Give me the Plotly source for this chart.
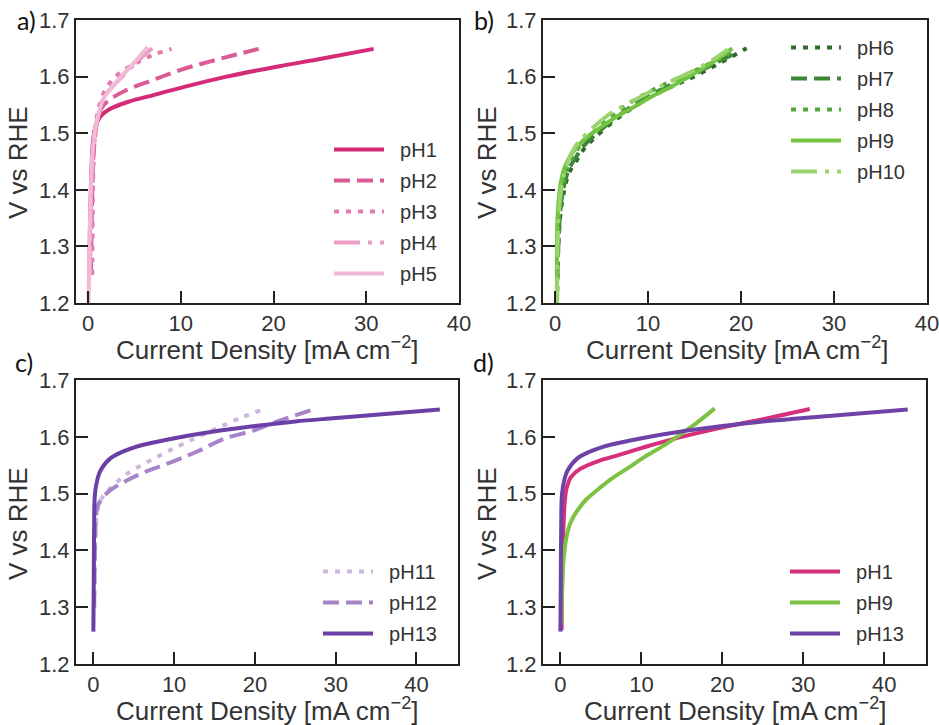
import plotly.graph_objects as go

# ---------------- data ----------------
# panel a (acidic)
ph1_x = [0.15, 0.2, 0.3, 0.4, 0.53, 0.74, 1.0, 1.36, 2.39, 4.44, 6.5, 10.2, 14.7, 20.5, 25.0, 30.8]
ph1_y = [1.26, 1.33, 1.40, 1.45, 1.485, 1.508, 1.52, 1.53, 1.543, 1.556, 1.565, 1.581, 1.599, 1.618, 1.631, 1.649]
ph2_x = [0.3, 0.4, 0.55, 0.8, 1.1, 1.6, 2.4, 4.0, 7.0, 10.0, 13.0, 16.0, 18.4]
ph2_y = [1.25, 1.35, 1.45, 1.50, 1.53, 1.548, 1.56, 1.575, 1.594, 1.612, 1.626, 1.639, 1.649]
ph3_x = [0.45, 0.5, 0.6, 0.8, 1.1, 1.6, 2.4, 3.4, 5.3, 7.0, 9.0]
ph3_y = [1.25, 1.35, 1.45, 1.51, 1.541, 1.568, 1.59, 1.606, 1.625, 1.638, 1.649]
ph4_x = [0.2, 0.3, 0.45, 0.7, 1.0, 1.6, 2.5, 3.5, 5.0, 6.9]
ph4_y = [1.25, 1.35, 1.45, 1.50, 1.525, 1.56, 1.58, 1.597, 1.622, 1.65]
ph5_x = [0.05, 0.15, 0.3, 0.5, 0.8, 1.0, 1.6, 2.5, 3.4, 5.0, 6.4]
ph5_y = [1.20, 1.30, 1.40, 1.47, 1.51, 1.523, 1.559, 1.58, 1.597, 1.625, 1.652]

# panel b (neutral)
ph6_x = [0.2, 0.35, 0.6, 1.0, 1.5, 2.15, 3.0, 4.0, 6.0, 8.0, 10.0, 12.5, 14.7, 17.5, 20.6]
ph6_y = [1.20, 1.30, 1.36, 1.40, 1.43, 1.447, 1.47, 1.488, 1.517, 1.541, 1.562, 1.582, 1.598, 1.622, 1.65]
ph7_x = [0.2, 0.35, 0.6, 1.0, 1.5, 2.15, 3.0, 4.0, 6.0, 8.0, 10.0, 12.5, 14.7, 17.5, 19.6]
ph7_y = [1.20, 1.30, 1.37, 1.41, 1.437, 1.455, 1.476, 1.493, 1.52, 1.545, 1.565, 1.586, 1.602, 1.626, 1.643]
ph8_x = [0.2, 0.3, 0.55, 1.0, 1.5, 2.15, 3.0, 4.0, 6.0, 8.0, 10.0, 12.5, 14.7, 17.5, 19.5]
ph8_y = [1.20, 1.30, 1.38, 1.42, 1.445, 1.465, 1.485, 1.50, 1.528, 1.553, 1.572, 1.592, 1.608, 1.63, 1.648]
ph9_x = [0.2, 0.25, 0.4, 0.7, 1.1, 1.56, 2.39, 3.21, 4.44, 6.5, 8.56, 10.2, 12.7, 14.7, 16.8, 19.05]
ph9_y = [1.20, 1.348, 1.385, 1.42, 1.443, 1.458, 1.476, 1.49, 1.505, 1.528, 1.547, 1.563, 1.584, 1.603, 1.624, 1.65]
ph10_x = [0.2, 0.3, 0.4, 0.75, 1.3, 2.15, 3.2, 5.7, 8.0, 10.0, 12.5, 14.7, 17.0, 18.6]
ph10_y = [1.20, 1.32, 1.36, 1.41, 1.447, 1.476, 1.496, 1.532, 1.554, 1.571, 1.592, 1.609, 1.63, 1.648]

# panel c (alkaline)
ph11_x = [0.1, 0.2, 0.4, 0.8, 1.3, 2.5, 4.2, 7.0, 10.3, 13.0, 16.1, 18.5, 20.8]
ph11_y = [1.30, 1.40, 1.46, 1.485, 1.497, 1.515, 1.535, 1.558, 1.582, 1.60, 1.62, 1.635, 1.647]
ph12_x = [0.1, 0.2, 0.3, 0.5, 1.0, 2.1, 4.0, 6.2, 10.3, 13.0, 16.1, 20.0, 23.0, 27.2]
ph12_y = [1.30, 1.40, 1.45, 1.477, 1.49, 1.506, 1.522, 1.537, 1.559, 1.575, 1.596, 1.612, 1.628, 1.648]
ph13_x = [0.0, 0.05, 0.1, 0.2, 0.5, 0.9, 2.1, 4.2, 6.2, 10.2, 14.7, 20.0, 25.0, 30.0, 35.0, 42.9]
ph13_y = [1.257, 1.35, 1.45, 1.50, 1.525, 1.541, 1.562, 1.577, 1.586, 1.598, 1.609, 1.619, 1.627, 1.633, 1.639, 1.648]

# panel d comparison: pH9 curve as shown there (starts near 1.27 V)
ph9d_x = [0.15, 0.25, 0.4, 0.7, 1.1, 1.56, 2.39, 3.21, 4.44, 6.5, 8.56, 10.2, 12.7, 14.7, 16.8, 19.05]
ph9d_y = [1.27, 1.348, 1.385, 1.42, 1.443, 1.458, 1.476, 1.49, 1.505, 1.528, 1.547, 1.563, 1.584, 1.603, 1.624, 1.65]

x_ticks = [0, 10, 20, 30, 40]
y_ticks = [1.2, 1.3, 1.4, 1.5, 1.6, 1.7]

FONT = "Liberation Sans, Arial, sans-serif"
TXT = "#333333"
AX = "#222222"
GAP = "\u00a0\u00a0"  # extra space between legend line and label

fig = go.Figure()

def add(x, y, name, color, dash, n, legend):
    ax = "" if n == 1 else str(n)
    fig.add_trace(go.Scatter(
        x=x, y=y, name=GAP + name, mode="lines", line_shape="spline",
        line=dict(color=color, width=4, dash=dash),
        xaxis="x" + ax, yaxis="y" + ax, legend=legend, legendgroup=name + legend,
    ))

DOT = "5px,7px"
DASH = "16px,7px"
DASHDOT = "26px,8px,4px,8px"

add(ph1_x, ph1_y, "pH1", "#d42a78", "solid", 1, "legend")
add(ph2_x, ph2_y, "pH2", "#dc5a96", DASH, 1, "legend")
add(ph3_x, ph3_y, "pH3", "#e27bb0", DOT, 1, "legend")
add(ph4_x, ph4_y, "pH4", "#eb9cc5", DASHDOT, 1, "legend")
add(ph5_x, ph5_y, "pH5", "#f2b8d5", "solid", 1, "legend")

add(ph6_x, ph6_y, "pH6", "#2e6b2a", DOT, 2, "legend2")
add(ph7_x, ph7_y, "pH7", "#3d8636", DASH, 2, "legend2")
add(ph8_x, ph8_y, "pH8", "#52a83e", DOT, 2, "legend2")
add(ph9_x, ph9_y, "pH9", "#72c441", "solid", 2, "legend2")
add(ph10_x, ph10_y, "pH10", "#9bd46e", DASHDOT, 2, "legend2")

add(ph11_x, ph11_y, "pH11", "#cdb6e0", DOT, 3, "legend3")
add(ph12_x, ph12_y, "pH12", "#a784c9", DASH, 3, "legend3")
add(ph13_x, ph13_y, "pH13", "#6a3fa6", "solid", 3, "legend3")

add(ph1_x, ph1_y, "pH1", "#d6307b", "solid", 4, "legend4")
add(ph9d_x, ph9d_y, "pH9", "#7cc243", "solid", 4, "legend4")
add(ph13_x, ph13_y, "pH13", "#6f42a8", "solid", 4, "legend4")

W, H = 939, 725
def px(v):
    return v / W
def py(v):
    return 1 - v / H

def xax(dom, rng, anchor):
    return dict(domain=dom, range=rng, anchor=anchor, tickvals=x_ticks,
                showline=True, linecolor=AX, linewidth=2, mirror=True,
                ticks="inside", ticklen=12, tickwidth=2, tickcolor=AX,
                showgrid=False, zeroline=False, automargin=False,
                ticklabeloverflow="allow",
                tickfont=dict(size=22, color=TXT, family=FONT))

def yax(dom, anchor):
    return dict(domain=dom, range=[1.2, 1.7], anchor=anchor, tickvals=y_ticks,
                tickformat=".1f",
                showline=True, linecolor=AX, linewidth=2, mirror=True,
                ticks="inside", ticklen=12, tickwidth=2, tickcolor=AX,
                showgrid=False, zeroline=False, automargin=False,
                ticklabeloverflow="allow",
                tickfont=dict(size=22, color=TXT, family=FONT))

top_dom = [py(303), py(20)]
bot_dom = [py(664), py(380)]

def leg(x, y):
    return dict(x=x, y=y, xanchor="left", yanchor="top", bgcolor="rgba(0,0,0,0)",
                font=dict(size=20, color=TXT, family=FONT), itemwidth=50,
                tracegroupgap=2, traceorder="grouped")

fig.update_layout(
    width=W, height=H, margin=dict(l=0, r=0, t=0, b=0, pad=0, autoexpand=False),
    paper_bgcolor="white", plot_bgcolor="white",
    font=dict(family=FONT, color=TXT),
    xaxis=xax([px(76), px(459)], [-1.3, 40], "y"),
    yaxis=yax(top_dom, "x"),
    xaxis2=xax([px(543), px(927)], [-1.3, 40], "y2"),
    yaxis2=yax(top_dom, "x2"),
    xaxis3=xax([px(76), px(458)], [-2.15, 45.15], "y3"),
    yaxis3=yax(bot_dom, "x3"),
    xaxis4=xax([px(543), px(926)], [-2.15, 45.15], "y4"),
    yaxis4=yax(bot_dom, "x4"),
    legend=leg(px(329), py(130)),
    legend2=leg(px(786), py(28)),
    legend3=leg(px(318), py(552)),
    legend4=leg(px(785), py(552)),
    showlegend=True,
)

XT = "Current Density [mA cm<sup>−2</sup>]"
YT = "V vs RHE"
ann = []
for xc, yc in [(267, 348), (737, 348), (267, 709), (735, 709)]:
    ann.append(dict(x=px(xc), y=py(yc), xref="paper", yref="paper", text=XT, showarrow=False,
                    font=dict(size=26, color=TXT, family=FONT), xanchor="center", yanchor="middle"))
for xc, yc in [(18, 163), (487, 163), (18, 524), (487, 524)]:
    ann.append(dict(x=px(xc), y=py(yc), xref="paper", yref="paper", text=YT, showarrow=False,
                    textangle=-90, font=dict(size=26, color=TXT, family=FONT),
                    xanchor="center", yanchor="middle"))
for lab, xc, yc in [("a)", 26, 20), ("b)", 484, 20), ("c)", 24, 362), ("d)", 484, 362)]:
    ann.append(dict(x=px(xc), y=py(yc), xref="paper", yref="paper", text=lab, showarrow=False,
                    font=dict(size=25, color="#111111", family="Lato, Open Sans, sans-serif"),
                    xanchor="center", yanchor="middle"))
fig.update_layout(annotations=ann)

fig.write_html("out.html", config={"displayModeBar": False},
               post_script="document.body.style.margin='0';document.body.style.overflow='hidden';")
